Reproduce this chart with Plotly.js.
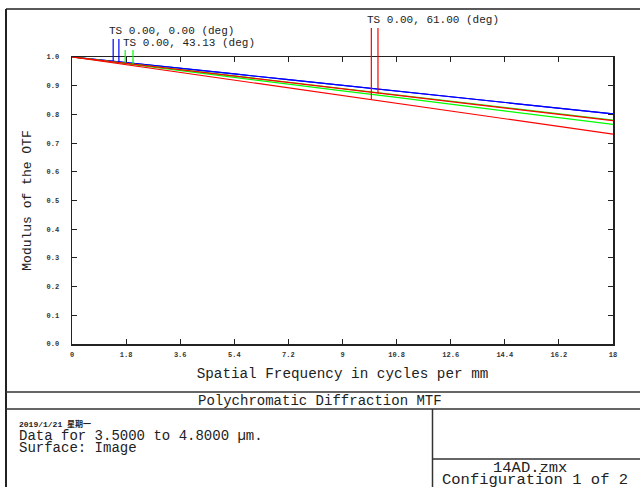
<!DOCTYPE html>
<html>
<head>
<meta charset="utf-8">
<script src="https://cdn.plot.ly/plotly-3.0.1.min.js"></script>
<style>html,body{margin:0;padding:0;background:#fff;}#chart{width:640px;height:487px;}</style>
</head>
<body>
<div id="chart"></div>
<script>
// Spatial frequency samples (cycles/mm)
const freq = [0, 1.8, 3.6, 5.4, 7.2, 9, 10.8, 12.6, 14.4, 16.2, 18];
// Field 1: TS 0.00, 0.00 (deg) - tangential and sagittal
const field1T = [1.000, 0.981, 0.961, 0.941, 0.921, 0.901, 0.881, 0.861, 0.841, 0.822, 0.802];
const field1S = [1.000, 0.981, 0.961, 0.941, 0.921, 0.901, 0.881, 0.861, 0.841, 0.822, 0.802];
// Field 2: TS 0.00, 43.13 (deg)
const field2T = [1.000, 0.978, 0.956, 0.934, 0.912, 0.890, 0.868, 0.846, 0.824, 0.802, 0.780];
const field2S = [1.000, 0.976, 0.953, 0.929, 0.906, 0.882, 0.859, 0.835, 0.812, 0.788, 0.765];
// Field 3: TS 0.00, 61.00 (deg)
const field3T = [1.000, 0.973, 0.946, 0.919, 0.892, 0.865, 0.838, 0.811, 0.785, 0.758, 0.731];
const field3S = [1.000, 0.978, 0.956, 0.933, 0.911, 0.889, 0.867, 0.845, 0.822, 0.800, 0.778];

// Field label marker lines
const markerX      = [1.37, 1.56, 1.77, 2.03, 9.96, 10.18];
const markerTop    = [1.063, 1.063, 1.024, 1.024, 1.101, 1.101];
const markerBottom = [0.985, 0.983, 0.981, 0.975, 0.852, 0.874];
const markerColor  = ['#0000ff', '#0000ff', '#00ff00', '#00ff00', '#ff0000', '#ff0000'];

const fieldLabels = ['TS 0.00, 0.00 (deg)', 'TS 0.00, 43.13 (deg)', 'TS 0.00, 61.00 (deg)'];
const fieldLabelX = [1.18, 1.63, 9.76];
const fieldLabelY = [0.9363, 0.9117, 0.9589];

const yTicks = [0, 0.1, 0.2, 0.3, 0.4, 0.5, 0.6, 0.7, 0.8, 0.9, 1.0];
const yTickText = ['0.0','0.1','0.2','0.3','0.4','0.5','0.6','0.7','0.8','0.9','1.0'];
const xTicks = [0, 1.8, 3.6, 5.4, 7.2, 9, 10.8, 12.6, 14.4, 16.2, 18];
const xTickText = ['0','1.8','3.6','5.4','7.2','9','10.8','12.6','14.4','16.2','18'];

const MONO = 'Liberation Mono, Courier New, monospace';
const W = 640, H = 487;
const px = v => v / W;
const py = v => 1 - v / H;

const traces = [];
function curve(y, color) {
  traces.push({x: freq, y: y, type: 'scatter', mode: 'lines',
    line: {color: color, width: 1.2}, hoverinfo: 'skip', showlegend: false});
}
curve(field1T, '#0000ff');
curve(field1S, '#0000ff');
curve(field2T, '#00ff00');
curve(field2S, '#00ff00');
curve(field3S, '#ff0000');
curve(field3T, '#ff0000');

for (let i = 0; i < markerX.length; i++) {
  traces.push({x: [markerX[i], markerX[i]], y: [markerBottom[i], markerTop[i]],
    xaxis: 'x', yaxis: 'y2', type: 'scatter', mode: 'lines',
    line: {color: markerColor[i], width: 1.2}, hoverinfo: 'skip', showlegend: false});
}

const lineStyle = {color: '#333', width: 1.5};
const shapes = [
  // outer frame
  {type: 'line', xref: 'paper', yref: 'paper', x0: px(6), x1: px(6), y0: py(9), y1: py(490), line: {color: '#222', width: 2}},
  {type: 'line', xref: 'paper', yref: 'paper', x0: px(6), x1: 1.01, y0: py(9), y1: py(9), line: {color: '#222', width: 1.5}},
  {type: 'line', xref: 'paper', yref: 'paper', x0: px(6), x1: 1.01, y0: py(392), y1: py(392), line: lineStyle},
  {type: 'line', xref: 'paper', yref: 'paper', x0: px(6), x1: 1.01, y0: py(409), y1: py(409), line: lineStyle},
  {type: 'line', xref: 'paper', yref: 'paper', x0: px(432.5), x1: px(432.5), y0: py(409), y1: py(490), line: lineStyle},
  {type: 'line', xref: 'paper', yref: 'paper', x0: px(432.5), x1: 1.01, y0: py(459), y1: py(459), line: lineStyle}
];

const annFont = {family: MONO, size: 11, color: '#222'};
const annotations = [];
for (let i = 0; i < fieldLabels.length; i++) {
  annotations.push({text: fieldLabels[i], xref: 'x', yref: 'paper', x: fieldLabelX[i], y: fieldLabelY[i],
    xanchor: 'left', yanchor: 'middle', showarrow: false, font: annFont});
}
const boxFont = {family: MONO, size: 14, color: '#222'};
const bigFont = {family: MONO, size: 15.5, color: '#222'};
annotations.push(
  {text: 'Polychromatic Diffraction MTF', xref: 'paper', yref: 'paper', x: px(320), y: py(400.5),
   xanchor: 'center', yanchor: 'middle', showarrow: false, font: boxFont},
  {text: '2019/1/21 星期一', xref: 'paper', yref: 'paper', x: px(17), y: py(424),
   xanchor: 'left', yanchor: 'middle', showarrow: false,
   font: {family: 'Liberation Mono, Noto Sans CJK SC', size: 8, color: '#222', weight: 700}},
  {text: 'Data for 3.5000 to 4.8000 µm.', xref: 'paper', yref: 'paper', x: px(17), y: py(436),
   xanchor: 'left', yanchor: 'middle', showarrow: false, font: boxFont},
  {text: 'Surface: Image', xref: 'paper', yref: 'paper', x: px(17), y: py(447.5),
   xanchor: 'left', yanchor: 'middle', showarrow: false, font: boxFont},
  {text: '14AD.zmx', xref: 'paper', yref: 'paper', x: px(530), y: py(467.5),
   xanchor: 'center', yanchor: 'middle', showarrow: false, font: bigFont},
  {text: 'Configuration 1 of 2', xref: 'paper', yref: 'paper', x: px(440), y: py(479.5),
   xanchor: 'left', yanchor: 'middle', showarrow: false, font: bigFont}
);

const layout = {
  width: W, height: H,
  margin: {l: 0, r: 0, t: 0, b: 0},
  paper_bgcolor: '#fff', plot_bgcolor: 'rgba(0,0,0,0)',
  showlegend: false,
  xaxis: {
    domain: [px(72), px(613)], range: [0, 18], anchor: 'y',
    tickvals: xTicks, ticktext: xTickText,
    ticks: 'inside', ticklen: 5, tickcolor: '#222', tickwidth: 1,
    showline: true, linecolor: '#222', linewidth: 1.5, mirror: 'ticks',
    showgrid: false, zeroline: false,
    tickfont: {family: MONO, size: 7, color: '#333', weight: 700},
    ticklabelstandoff: 3,
    title: {text: 'Spatial Frequency in cycles per mm', standoff: 10,
      font: {family: MONO, size: 14.3, color: '#222'}}
  },
  yaxis: {
    domain: [py(344), py(57)], range: [0, 1], anchor: 'x',
    tickvals: yTicks, ticktext: yTickText,
    ticks: 'inside', ticklen: 5, tickcolor: '#222', tickwidth: 1,
    showline: true, linecolor: '#222', linewidth: 1.5, mirror: 'ticks',
    showgrid: false, zeroline: false,
    tickfont: {family: MONO, size: 7, color: '#333', weight: 700},
    ticklabelstandoff: 10,
    title: {text: 'Modulus of the OTF', standoff: 12,
      font: {family: MONO, size: 13, color: '#222'}}
  },
  yaxis2: {
    domain: [py(344), py(20)], range: [0, (344 - 20) / (344 - 57)], anchor: 'x',
    showline: false, showgrid: false, zeroline: false, showticklabels: false, ticks: ''
  },
  shapes: shapes,
  annotations: annotations
};

Plotly.newPlot('chart', traces, layout, {displayModeBar: false, staticPlot: true});
</script>
</body>
</html>
